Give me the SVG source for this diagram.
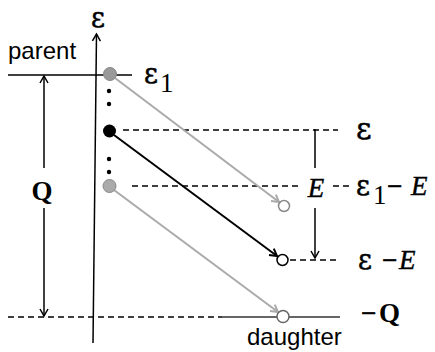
<svg xmlns="http://www.w3.org/2000/svg" width="435" height="352" viewBox="0 0 435 352">
<style>
.ln{stroke:#000;stroke-width:1.5;fill:none}
.dash{stroke:#000;stroke-width:1.3;fill:none;stroke-dasharray:6 4}
.gray{stroke:#aaa;stroke-width:2;fill:none}
.blk{stroke:#000;stroke-width:2;fill:none}
.sans{font-family:"Liberation Sans",Arial,sans-serif;font-size:24px;fill:#000}
.eps{font-family:"DejaVu Serif",serif;fill:#000;stroke:#000;stroke-width:0.5}
.mn{font-family:"Liberation Serif","Times New Roman",serif;font-size:27px;fill:#000;stroke:#000;stroke-width:0.6}
.math{font-family:"Liberation Serif","Times New Roman",serif;font-size:27px;fill:#000}
.it{font-style:italic;stroke:#000;stroke-width:0.4}
.bd{font-weight:bold}
</style>
<defs>
<marker id="hb" markerUnits="userSpaceOnUse" markerWidth="12" markerHeight="12" refX="8" refY="5" orient="auto"><path d="M1,1 L8,5 L1,9" fill="none" stroke="#000" stroke-width="1.5"/></marker>
<marker id="hg" markerUnits="userSpaceOnUse" markerWidth="12" markerHeight="12" refX="8" refY="5" orient="auto"><path d="M1,1 L8,5 L1,9" fill="none" stroke="#aaa" stroke-width="2"/></marker>
<marker id="hk" markerUnits="userSpaceOnUse" markerWidth="12" markerHeight="12" refX="8" refY="5" orient="auto"><path d="M1,1 L8,5 L1,9" fill="none" stroke="#000" stroke-width="2"/></marker>
</defs>
<rect width="435" height="352" fill="#fff"/>
<g id="axis">
<line class="ln" x1="93" y1="343" x2="96.5" y2="34" marker-end="url(#hb)"/>
<text class="eps" x="98" y="27" font-size="27" text-anchor="middle">ε</text>
</g>
<g id="levels">
<line class="ln" x1="8" y1="75" x2="132" y2="75"/>
<text class="sans" x="8" y="59">parent</text>
<line class="dash" x1="123" y1="130" x2="338" y2="130"/>
<line class="dash" x1="132" y1="186" x2="299" y2="186"/>
<line class="dash" x1="333" y1="186" x2="350" y2="186"/>
<line class="dash" x1="290" y1="260" x2="338" y2="260"/>
<line class="dash" x1="8" y1="317" x2="222" y2="317"/>
<line x1="222" y1="317" x2="340" y2="317" stroke="#333" stroke-width="1.5"/>
<text class="sans" x="247" y="345">daughter</text>
</g>
<g id="q-span">
<line class="ln" x1="44" y1="168" x2="44" y2="76" marker-end="url(#hb)"/>
<line class="ln" x1="44" y1="208" x2="44" y2="316" marker-end="url(#hb)"/>
<text class="math bd" x="42" y="200" font-size="24" text-anchor="middle">Q</text>
</g>
<g id="e-span">
<polyline class="ln" points="314,130 315,130 315,168"/>
<line class="ln" x1="315" y1="208" x2="315" y2="258" marker-end="url(#hb)"/>
<text class="math it" x="316" y="197" text-anchor="middle">E</text>
</g>
<g id="connectors">
<line class="gray" x1="115" y1="78" x2="279" y2="202" marker-end="url(#hg)"/>
<line class="blk" x1="114" y1="135" x2="277" y2="256" marker-end="url(#hk)"/>
<line class="gray" x1="114" y1="190" x2="278" y2="312" marker-end="url(#hg)"/>
</g>
<g id="state-e1">
<circle cx="110" cy="74" r="6.5" fill="#999" stroke="#888" stroke-width="1"/>
</g>
<g id="dots1">
<circle cx="109" cy="91" r="2.2" fill="#000"/>
<circle cx="109" cy="104" r="2.2" fill="#000"/>
</g>
<g id="state-e">
<circle cx="109.5" cy="131" r="6.5" fill="#000"/>
</g>
<g id="dots2">
<circle cx="109" cy="159" r="2.2" fill="#000"/>
<circle cx="109" cy="172" r="2.2" fill="#000"/>
</g>
<g id="state-low">
<circle cx="109.5" cy="186" r="6.5" fill="#aaa" stroke="#888" stroke-width="1"/>
</g>
<g id="final-1">
<circle cx="284" cy="206" r="5.5" fill="#fff" stroke="#888" stroke-width="1.5"/>
</g>
<g id="final-2">
<circle cx="282.5" cy="260" r="5.5" fill="#fff" stroke="#000" stroke-width="1.5"/>
</g>
<g id="final-3">
<circle cx="283" cy="316.5" r="6" fill="#fff" stroke="#666" stroke-width="1.5"/>
</g>
<g id="labels">
<text y="83"><tspan class="eps" x="144" font-size="27">ε</tspan><tspan class="math" x="160" y="92" font-size="19">1</tspan></text>
<text class="eps" x="356" y="139" font-size="30">ε</text>
<text y="195"><tspan class="eps" x="356" font-size="27">ε</tspan><tspan class="math" x="373" y="204" font-size="19">1</tspan><tspan class="mn" x="387" y="195">−</tspan><tspan class="math it" x="411" y="195">E</tspan></text>
<text y="269"><tspan class="eps" x="358" font-size="27">ε</tspan><tspan class="mn" x="382">−</tspan><tspan class="math it" x="399">E</tspan></text>
<text y="322"><tspan class="mn" x="361">−</tspan><tspan class="math bd" x="379" font-size="26">Q</tspan></text>
</g>
</svg>
